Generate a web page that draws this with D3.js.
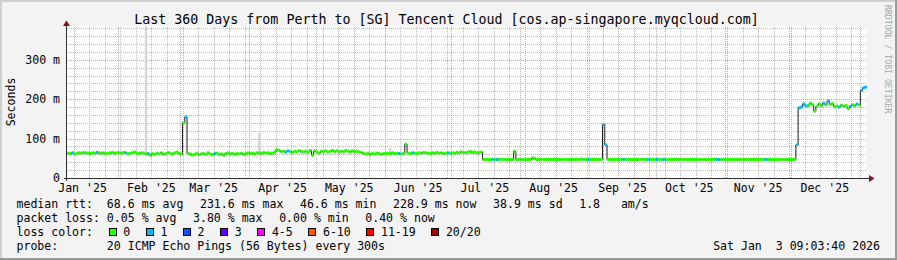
<!DOCTYPE html>
<html>
<head>
<meta charset="utf-8">
<script src="https://cdn.jsdelivr.net/npm/d3@7"></script>
<style>
    html, body { margin: 0; padding: 0; background: #f3f3f3; }
    svg { display: block; font-family: "DejaVu Sans Mono", monospace; }
    svg text { white-space: pre; }
</style>
</head>
<body>
<svg id="chart" width="897" height="260"></svg>
<script>
'use strict';

// median rtt in ms, one value per day, first value is 2025-01-09
var rttJan = [63, 62, 64, 61, 63, 64, 63, 65, 64, 63, 62, 64, 63, 65, 64, 63, 64, 62, 63, 64, 65, 63, 64];
var rttFeb = [64, 63, 65, 64, 62, 63, 64, 66, 63, 62, 64, 63, 61, 62, 58, 62, 60, 63, 61, 64, 60, 62, 65, 63, 61, 64, 66, 62];
var rttMar = [61, 140, 155, 62, 61, 58, 60, 63, 59, 61, 62, 60, 64, 61, 59, 62, 63, 60, 61, 58, 62, 64, 61, 63, 60, 62, 61, 63, 60, 62, 64];
var rttApr = [62, 63, 61, 64, 63, 62, 65, 63, 64, 62, 63, 66, 72, 70, 67, 68, 66, 69, 67, 65, 68, 66, 70, 67, 66, 68, 65, 70, 58, 69];
var rttMay = [66, 63, 68, 67, 69, 66, 68, 70, 67, 69, 66, 68, 67, 70, 68, 66, 69, 67, 68, 66, 65, 62, 61, 63, 60, 62, 61, 63, 62, 60, 62];
var rttJun = [62, 63, 61, 64, 62, 63, 62, 61, 63, 86, 63, 62, 64, 63, 62, 64, 63, 65, 64, 63, 62, 64, 63, 65, 63, 64, 62, 63, 64, 63];
var rttJul = [64, 63, 65, 64, 66, 65, 64, 66, 67, 65, 66, 64, 65, 66, 47, 47, 47, 47, 47, 47, 47, 47, 47, 47, 47, 47, 47, 47, 68, 47, 47];
var rttAug = [47, 47, 47, 47, 47, 51, 50, 47, 47, 47, 47, 47, 47, 47, 47, 47, 47, 47, 47, 47, 47, 47, 47, 47, 47, 47, 47, 47, 47, 47, 47];
var rttSep = [47, 47, 47, 47, 47, 47, 136, 84, 47, 47, 47, 47, 47, 47, 47, 47, 47, 47, 47, 47, 47, 47, 47, 47, 47, 47, 47, 47, 47, 47];
var rttOct = [47, 47, 47, 47, 47, 47, 47, 47, 47, 47, 47, 47, 47, 47, 47, 47, 47, 47, 47, 47, 47, 47, 47, 47, 47, 47, 47, 47, 47, 47, 47];
var rttNov = [47, 47, 47, 47, 47, 47, 47, 47, 47, 47, 47, 47, 47, 47, 47, 47, 47, 47, 47, 47, 47, 47, 47, 47, 47, 47, 47, 47, 47, 47];
var rttDec = [47, 47, 84, 178, 180, 188, 183, 184, 190, 186, 170, 182, 188, 184, 190, 186, 196, 187, 189, 181, 183, 180, 185, 182, 184, 176, 182, 186, 183, 188, 185];
var rttJan26 = [222, 229, 231];

// days where pings were lost: [day, lost pings out of 20]
var lossDays = [
    ["2025-01-11", 1], ["2025-01-22", 1], ["2025-02-04", 1], ["2025-02-14", 1], ["2025-03-03", 1],
    ["2025-03-16", 1], ["2025-04-17", 1], ["2025-04-18", 1], ["2025-06-07", 1], ["2025-06-13", 1],
    ["2025-06-29", 1], ["2025-07-19", 1], ["2025-07-21", 1], ["2025-08-31", 1], ["2025-09-07", 1],
    ["2025-09-08", 1], ["2025-09-16", 1], ["2025-09-27", 1], ["2025-10-01", 1], ["2025-10-04", 1],
    ["2025-10-28", 1], ["2025-10-29", 1], ["2025-11-19", 1], ["2025-12-03", 1], ["2025-12-04", 1],
    ["2025-12-05", 1], ["2025-12-06", 1], ["2025-12-07", 1], ["2025-12-15", 1], ["2025-12-17", 1],
    ["2025-12-22", 1], ["2025-12-27", 1], ["2025-12-30", 1], ["2026-01-01", 1], ["2026-01-02", 1],
    ["2026-01-03", 1]
];

// smoke (spread of the pings): [day, low ms, high ms]
var smokeDays = [
    ["2025-02-13", 60, 420], ["2025-04-05", 62, 114], ["2025-06-03", 62, 76],
    ["2025-08-26", 47, 53], ["2025-08-28", 47, 55], ["2025-08-29", 47, 52], ["2025-09-02", 47, 54],
    ["2025-09-25", 47, 52], ["2025-09-28", 47, 53], ["2025-10-02", 47, 52], ["2025-10-03", 47, 51],
    ["2025-10-17", 47, 51], ["2025-10-20", 47, 52], ["2025-10-24", 47, 51], ["2025-10-27", 47, 51]
];

var yTicks = [0, 100, 200, 300];
var yTickLabels = ["0", "100 m", "200 m", "300 m"];

var lossBuckets = [
    {max: 0, label: "0", color: "#26ff00"},
    {max: 1, label: "1", color: "#00b8ff"},
    {max: 2, label: "2", color: "#0059ff"},
    {max: 3, label: "3", color: "#5e00ff"},
    {max: 5, label: "4-5", color: "#ff00ff"},
    {max: 10, label: "6-10", color: "#ff5500"},
    {max: 19, label: "11-19", color: "#ff0000"},
    {max: 20, label: "20/20", color: "#a00000"}
];

var titleText = "Last 360 Days from Perth to [SG] Tencent Cloud [cos.ap-singapore.myqcloud.com]";
var rttStats = ["median rtt:  68.6 ms avg", "231.6 ms max", "46.6 ms min", "228.9 ms now", "38.9 ms sd", "1.8   am/s"];
var lossStats = ["packet loss: 0.05 % avg", "3.80 % max", "0.00 % min", "0.40 % now"];
var probeText = "probe:       20 ICMP Echo Pings (56 Bytes) every 300s";
var stampText = "Sat Jan  3 09:03:40 2026";

var parseDay = d3.utcParse("%Y-%m-%d");
var startDate = parseDay("2025-01-09");
var endDate = parseDay("2026-01-04");

var rtt = [].concat(rttJan, rttFeb, rttMar, rttApr, rttMay, rttJun, rttJul, rttAug, rttSep, rttOct, rttNov, rttDec, rttJan26);
var lossByDay = {};
lossDays.forEach(function (d) { lossByDay[d[0]] = d[1]; });

var fmtDay = d3.utcFormat("%Y-%m-%d");
var data = rtt.map(function (v, i) {
    var t0 = d3.utcDay.offset(startDate, i);
    return {t0: t0, t1: d3.utcDay.offset(t0, 1), value: v, loss: lossByDay[fmtDay(t0)] || 0};
});

// keep runs of spaces, as rrdtool prints them
function keepSpaces(s) { return s.replace(/ /g, "\u00a0"); }

var svg = d3.select("#chart");
var fontSize = "11.55px";

var x = d3.scaleUtc().domain([startDate, endDate]).range([67, 867]);
var y = d3.scaleLinear().domain([0, 386]).range([178, 26]);

// background and 3d frame
svg.append("rect").attr("width", 897).attr("height", 260).attr("fill", "#f3f3f3");
svg.append("rect").attr("x", 0).attr("y", 0).attr("width", 897).attr("height", 2).attr("fill", "#cfcfcf");
svg.append("rect").attr("x", 0).attr("y", 0).attr("width", 2).attr("height", 260).attr("fill", "#cfcfcf");
svg.append("rect").attr("x", 0).attr("y", 258).attr("width", 897).attr("height", 2).attr("fill", "#9b9b9b");
svg.append("rect").attr("x", 895).attr("y", 0).attr("width", 2).attr("height", 260).attr("fill", "#9b9b9b");

svg.append("rect")
    .attr("x", 67).attr("y", 26)
    .attr("width", 800).attr("height", 152)
    .attr("fill", "#ffffff");

svg.append("clipPath").attr("id", "plotClip")
    .append("rect").attr("x", 67).attr("y", 26).attr("width", 800).attr("height", 152);

// grid
var grid = svg.append("g").attr("shape-rendering", "crispEdges");

grid.selectAll("line.hminor")
    .data(y.ticks(20).filter(function (d) { return d % 100 !== 0; }))
    .enter().append("line")
    .attr("x1", 67).attr("x2", 867)
    .attr("y1", function (d) { return Math.round(y(d)) + 0.5; })
    .attr("y2", function (d) { return Math.round(y(d)) + 0.5; })
    .attr("stroke", "#bdbdbd").attr("stroke-dasharray", "1,1");

grid.selectAll("line.vminor")
    .data(d3.utcSunday.range(startDate, endDate))
    .enter().append("line")
    .attr("x1", function (d) { return Math.round(x(d)) + 0.5; })
    .attr("x2", function (d) { return Math.round(x(d)) + 0.5; })
    .attr("y1", 178).attr("y2", 26)
    .attr("stroke", "#bdbdbd").attr("stroke-dasharray", "1,1");

grid.selectAll("line.hmajor")
    .data(yTicks.slice(1))
    .enter().append("line")
    .attr("x1", 67).attr("x2", 867)
    .attr("y1", function (d) { return Math.round(y(d)) + 0.5; })
    .attr("y2", function (d) { return Math.round(y(d)) + 0.5; })
    .attr("stroke", "#ef9a9a").attr("stroke-dasharray", "1,1");

grid.selectAll("line.vmajor")
    .data(d3.utcMonth.range(startDate, endDate))
    .enter().append("line")
    .attr("x1", function (d) { return Math.round(x(d)) + 0.5; })
    .attr("x2", function (d) { return Math.round(x(d)) + 0.5; })
    .attr("y1", 178).attr("y2", 26)
    .attr("stroke", "#ef9a9a").attr("stroke-dasharray", "1,1");

// smoke
var plot = svg.append("g").attr("clip-path", "url(#plotClip)");

plot.selectAll("rect.smoke")
    .data(smokeDays)
    .enter().append("rect")
    .attr("x", function (d) { return x(parseDay(d[0])); })
    .attr("width", function (d) { return x(d3.utcDay.offset(parseDay(d[0]), 1)) - x(parseDay(d[0])); })
    .attr("y", function (d) { return y(d[2]); })
    .attr("height", function (d) { return y(d[1]) - y(d[2]); })
    .attr("fill", "#d6d6d6");

// thin median line
var stepPoints = [];
data.forEach(function (d) {
    stepPoints.push([x(d.t0), y(d.value)]);
    stepPoints.push([x(d.t1), y(d.value)]);
});

plot.append("path")
    .attr("d", d3.line()(stepPoints))
    .attr("fill", "none")
    .attr("stroke", "#1a1a1a")
    .attr("stroke-width", 1);

// median coloured by packet loss
function lossColor(loss) {
    for (var i = 0; i < lossBuckets.length; i++) {
        if (loss <= lossBuckets[i].max) return lossBuckets[i].color;
    }
    return lossBuckets[lossBuckets.length - 1].color;
}

plot.selectAll("line.median")
    .data(data)
    .enter().append("line")
    .attr("x1", function (d) { return x(d.t0); })
    .attr("x2", function (d) { return x(d.t1); })
    .attr("y1", function (d) { return y(d.value); })
    .attr("y2", function (d) { return y(d.value); })
    .attr("stroke", function (d) { return lossColor(d.loss); })
    .attr("stroke-width", 3);

// axes
svg.append("line")
    .attr("x1", 64).attr("x2", 870).attr("y1", 178.5).attr("y2", 178.5)
    .attr("stroke", "#303030").attr("shape-rendering", "crispEdges");
svg.append("line")
    .attr("x1", 66.5).attr("x2", 66.5).attr("y1", 181).attr("y2", 24)
    .attr("stroke", "#303030").attr("shape-rendering", "crispEdges");
svg.append("path").attr("d", "M66.5,20.5L63,26L70,26Z").attr("fill", "#8b1010");
svg.append("path").attr("d", "M874.5,178.5L869,175L869,182Z").attr("fill", "#8b1010");

// y tick labels
svg.selectAll("text.ylab")
    .data(yTicks)
    .enter().append("text")
    .attr("x", 60)
    .attr("y", function (d) { return y(d) + 4; })
    .attr("text-anchor", "end")
    .attr("font-size", fontSize)
    .attr("fill", "#000")
    .text(function (d, i) { return yTickLabels[i]; });

// x labels, centred half a month after the month start
var monthFmt = d3.utcFormat("%b '%y");
var labelMonths = d3.utcMonth.range(d3.utcMonth.floor(startDate), endDate)
    .filter(function (d) { return x(d3.utcDay.offset(d, 15)) < 867; });

svg.selectAll("text.xlab")
    .data(labelMonths)
    .enter().append("text")
    .attr("x", function (d) { return x(d3.utcDay.offset(d, 15)); })
    .attr("y", 192)
    .attr("text-anchor", "middle")
    .attr("font-size", fontSize)
    .attr("fill", "#000")
    .text(function (d) { return monthFmt(d); });

// title, axis title, watermark
svg.append("text")
    .attr("x", 446.5).attr("y", 24)
    .attr("text-anchor", "middle")
    .attr("font-size", "13.3px")
    .attr("fill", "#000")
    .text(titleText);

svg.append("text")
    .attr("transform", "translate(15,102) rotate(-90)")
    .attr("text-anchor", "middle")
    .attr("font-size", fontSize)
    .attr("fill", "#000")
    .text("Seconds");

svg.append("text")
    .attr("transform", "translate(885,5) rotate(90)")
    .attr("text-anchor", "start")
    .attr("font-size", "8.2px")
    .attr("fill", "#a8a8a8")
    .text("RRDTOOL / TOBI OETIKER");

// legend: items on a row are chained with a fixed gap, like rrdtool does
var legendLeft = 16.5, itemGap = 16.6;

function legendRow(items, baseline) {
    var cx = legendLeft;
    items.forEach(function (item) {
        var t = svg.append("text")
            .attr("x", cx).attr("y", baseline)
            .attr("font-size", fontSize)
            .attr("fill", "#000")
            .text(keepSpaces(item));
        cx += t.node().getComputedTextLength() + itemGap;
    });
}

legendRow(rttStats, 208);
legendRow(lossStats, 222);

var lossTitle = svg.append("text")
    .attr("x", legendLeft).attr("y", 236)
    .attr("font-size", fontSize)
    .attr("fill", "#000")
    .text("loss color:");

var sx = legendLeft + lossTitle.node().getComputedTextLength() + 15.7;
lossBuckets.forEach(function (b) {
    svg.append("rect")
        .attr("x", Math.round(sx) + 0.5).attr("y", 228.5)
        .attr("width", 7).attr("height", 7)
        .attr("fill", b.color)
        .attr("stroke", "#000")
        .attr("shape-rendering", "crispEdges");
    var t = svg.append("text")
        .attr("x", sx + 14.6).attr("y", 236)
        .attr("font-size", fontSize)
        .attr("fill", "#000")
        .text(b.label);
    sx += 14.6 + t.node().getComputedTextLength() + 15.6;
});

svg.append("text")
    .attr("x", legendLeft).attr("y", 250)
    .attr("font-size", fontSize)
    .attr("fill", "#000")
    .text(keepSpaces(probeText));

svg.append("text")
    .attr("x", 880).attr("y", 250)
    .attr("text-anchor", "end")
    .attr("font-size", fontSize)
    .attr("fill", "#000")
    .text(keepSpaces(stampText));
</script>
</body>
</html>
